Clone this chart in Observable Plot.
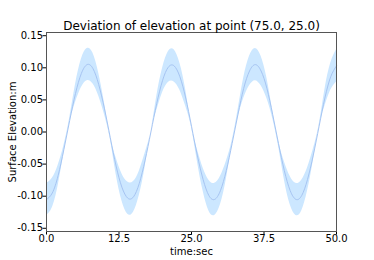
<!DOCTYPE html>
<html>
<head>
<meta charset="utf-8">
<script src="https://cdn.jsdelivr.net/npm/d3@7"></script>
<script src="https://cdn.jsdelivr.net/npm/@observablehq/plot@0.6"></script>
<style>
  html, body { margin: 0; padding: 0; background: #fff; }
  svg { display: block; }
</style>
</head>
<body>
<div id="chart"></div>
<script>
const title = "Deviation of elevation at point (75.0, 25.0)";
const xLabel = "time:sec";
const yLabel = "Surface Elevation:m";
const xTicks = [0, 12.5, 25, 37.5, 50];
const yTicks = [-0.15, -0.10, -0.05, 0.00, 0.05, 0.10, 0.15];

// time (sec)
const time = [0,1,2,3,4,5,6,7,8,9,10,11,12,13,14,15,16,17,18,19,20,21,22,23,24,25,26,27,28,29,30,31,32,33,34,35,36,37,38,39,40,41,42,43,44,45,46,47,48,49,50];
// mean surface elevation (m)
const meanElev = [-0.105,-0.095,-0.068,-0.027,0.018,0.060,0.091,0.105,0.099,0.074,0.036,-0.009,-0.053,-0.086,-0.103,-0.101,-0.080,-0.044,0.000,0.044,0.080,0.101,0.103,0.086,0.053,0.009,-0.036,-0.074,-0.099,-0.105,-0.091,-0.060,-0.018,0.027,0.068,0.095,0.105,0.095,0.068,0.027,-0.018,-0.060,-0.091,-0.105,-0.099,-0.074,-0.036,0.009,0.053,0.086,0.103];
// half-width of the deviation band (m)
const spread = [0.025,0.023,0.016,0.006,0.004,0.014,0.022,0.025,0.024,0.018,0.009,0.002,0.013,0.021,0.025,0.024,0.019,0.011,0.000,0.011,0.019,0.024,0.025,0.021,0.013,0.002,0.009,0.018,0.024,0.025,0.022,0.014,0.004,0.006,0.016,0.023,0.025,0.023,0.016,0.006,0.004,0.014,0.022,0.025,0.024,0.018,0.009,0.002,0.013,0.021,0.025];

const data = time.map((t, i) => ({t, m: meanElev[i], lo: meanElev[i] - spread[i], hi: meanElev[i] + spread[i]}));

const chart = Plot.plot({
  width: 374,
  height: 260,
  marginLeft: 46,
  marginRight: 38,
  marginTop: 32,
  marginBottom: 29,
  style: {fontFamily: "DejaVu Sans", fontSize: "10px", color: "#000", background: "#fff"},
  x: {domain: [0, 50]},
  y: {domain: [-0.155, 0.155]},
  marks: [
    Plot.areaY(data, {x: "t", y1: "lo", y2: "hi", fill: "#cce7ff", curve: "natural"}),
    Plot.lineY(data, {x: "t", y: "m", stroke: "#a6c4f2", strokeWidth: 1, curve: "natural"}),
    Plot.axisX({ticks: xTicks, tickFormat: d => d.toFixed(1), tickSize: 3.5, tickPadding: 0, label: xLabel, labelAnchor: "center", labelArrow: "none", labelOffset: 23, fontSize: 10, color: "#000"}),
    Plot.axisY({ticks: yTicks, tickFormat: d => d.toFixed(2), tickSize: 3.5, tickPadding: 0, label: yLabel, labelAnchor: "center", labelArrow: "none", labelOffset: 38, fontSize: 10, color: "#000"}),
    Plot.frame({stroke: "#555", strokeWidth: 1}),
    Plot.text([title], {frameAnchor: "top", dy: -6, lineAnchor: "middle", fontSize: 12, fill: "#000"})
  ]
});
document.getElementById("chart").appendChild(chart);
</script>
</body>
</html>
